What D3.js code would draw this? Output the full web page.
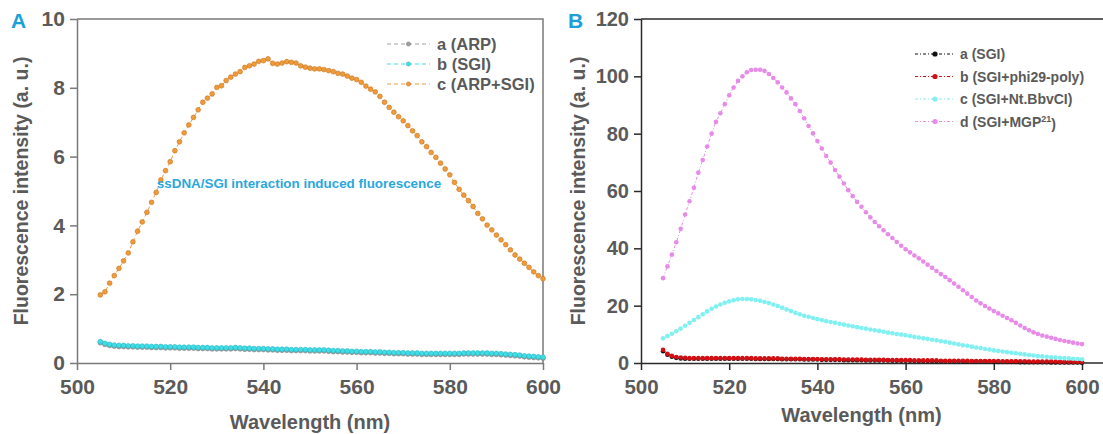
<!DOCTYPE html>
<html>
<head>
<meta charset="utf-8">
<script src="https://cdn.jsdelivr.net/npm/d3@7"></script>
<style>
  body { margin: 0; background: #fff; }
  svg { display: block; font-family: Arial, "Liberation Sans", sans-serif; font-weight: bold; }
</style>
</head>
<body>
<div id="chart"></div>
<script>
// wavelengths, 1 nm steps
var wavelengths = d3.range(505, 601);

// panel A
var arpA = [0.59,0.54,0.51,0.49,0.48,0.48,0.47,0.47,0.46,0.46,0.46,0.45,0.45,0.45,0.44,0.44,0.44,0.43,0.43,0.43,0.43,0.42,0.42,0.42,0.41,0.41,0.41,0.41,0.41,0.42,0.41,0.40,0.40,0.39,0.39,0.39,0.38,0.38,0.37,0.37,0.37,0.36,0.36,0.36,0.36,0.35,0.35,0.35,0.35,0.34,0.33,0.33,0.32,0.32,0.31,0.31,0.30,0.30,0.30,0.29,0.29,0.28,0.28,0.27,0.27,0.27,0.26,0.26,0.26,0.25,0.25,0.25,0.25,0.25,0.25,0.25,0.25,0.25,0.26,0.26,0.26,0.26,0.26,0.26,0.25,0.25,0.24,0.23,0.22,0.21,0.20,0.18,0.17,0.16,0.15,0.14];
var sgiA = [0.62,0.57,0.54,0.52,0.51,0.51,0.50,0.50,0.49,0.49,0.49,0.48,0.48,0.48,0.47,0.47,0.47,0.46,0.46,0.46,0.46,0.45,0.45,0.45,0.44,0.44,0.44,0.44,0.44,0.45,0.44,0.43,0.43,0.42,0.42,0.42,0.41,0.41,0.40,0.40,0.40,0.39,0.39,0.39,0.39,0.38,0.38,0.38,0.38,0.37,0.36,0.36,0.35,0.35,0.34,0.34,0.33,0.33,0.33,0.32,0.32,0.31,0.31,0.30,0.30,0.30,0.29,0.29,0.29,0.28,0.28,0.28,0.28,0.28,0.28,0.28,0.28,0.28,0.29,0.29,0.29,0.29,0.29,0.29,0.28,0.28,0.27,0.26,0.25,0.24,0.23,0.21,0.20,0.19,0.18,0.17];
var arpSgiA = [1.98,2.07,2.32,2.54,2.75,2.97,3.20,3.52,3.83,4.10,4.38,4.67,4.96,5.32,5.59,5.85,6.17,6.43,6.69,6.92,7.14,7.36,7.58,7.70,7.82,8.01,8.06,8.21,8.31,8.40,8.47,8.59,8.64,8.69,8.77,8.79,8.84,8.71,8.69,8.72,8.76,8.74,8.72,8.64,8.60,8.57,8.55,8.55,8.53,8.50,8.47,8.42,8.40,8.34,8.28,8.24,8.16,8.05,7.96,7.88,7.75,7.58,7.43,7.29,7.16,7.04,6.90,6.75,6.61,6.43,6.29,6.12,5.98,5.81,5.64,5.47,5.25,5.05,4.88,4.72,4.55,4.35,4.19,4.01,3.87,3.72,3.58,3.44,3.29,3.14,3.02,2.90,2.78,2.65,2.54,2.45];

// panel B
var sgiB = [4.1,2.9,2.2,1.8,1.6,1.5,1.5,1.5,1.5,1.5,1.5,1.5,1.5,1.5,1.5,1.5,1.5,1.5,1.5,1.5,1.5,1.4,1.4,1.4,1.4,1.4,1.4,1.3,1.3,1.3,1.3,1.3,1.2,1.2,1.2,1.2,1.1,1.1,1.1,1.1,1.1,1.0,1.0,1.0,1.0,1.0,0.9,0.9,0.9,0.9,0.9,0.9,0.8,0.8,0.8,0.8,0.8,0.7,0.7,0.7,0.7,0.7,0.6,0.6,0.6,0.6,0.6,0.6,0.5,0.5,0.5,0.5,0.5,0.5,0.5,0.4,0.4,0.4,0.4,0.4,0.4,0.3,0.3,0.3,0.3,0.3,0.3,0.3,0.2,0.2,0.2,0.2,0.2,0.2,0.2,0.1];
var phiB = [4.6,3.2,2.5,2.1,1.9,1.8,1.7,1.7,1.7,1.7,1.7,1.7,1.7,1.7,1.7,1.7,1.7,1.7,1.7,1.7,1.7,1.6,1.6,1.6,1.6,1.6,1.6,1.5,1.5,1.5,1.5,1.5,1.4,1.4,1.4,1.4,1.3,1.3,1.3,1.3,1.3,1.2,1.2,1.2,1.2,1.2,1.1,1.1,1.1,1.1,1.1,1.0,1.0,1.0,1.0,1.0,1.0,0.9,0.9,0.9,0.9,0.9,0.9,0.8,0.8,0.8,0.8,0.8,0.8,0.8,0.7,0.7,0.7,0.7,0.7,0.7,0.7,0.6,0.6,0.6,0.6,0.6,0.6,0.5,0.5,0.5,0.5,0.5,0.5,0.5,0.4,0.4,0.4,0.4,0.4,0.4];
var nickB = [8.6,9.4,10.2,11.1,12.0,13.0,14.0,15.0,16.0,17.0,18.0,18.9,19.7,20.4,21.0,21.5,21.9,22.2,22.3,22.3,22.2,22.0,21.7,21.3,20.9,20.4,19.9,19.3,18.7,18.1,17.5,17.0,16.5,16.1,15.7,15.3,15.0,14.6,14.3,14.0,13.7,13.4,13.1,12.8,12.5,12.2,12.0,11.7,11.4,11.2,10.9,10.6,10.4,10.1,9.9,9.7,9.4,9.1,8.9,8.6,8.4,8.1,7.9,7.6,7.4,7.1,6.8,6.5,6.2,6.0,5.7,5.4,5.2,4.9,4.7,4.4,4.2,4.0,3.8,3.6,3.4,3.2,3.0,2.8,2.6,2.4,2.3,2.2,2.0,1.9,1.8,1.7,1.6,1.5,1.4,1.3];
var mgpB = [29.6,33.7,37.8,42.1,46.8,51.8,56.4,61.1,66.4,70.8,75.5,80.0,84.1,87.1,90.3,93.4,96.1,98.4,100.0,101.4,102.2,102.3,102.3,101.9,100.8,99.4,97.9,96.1,94.4,92.3,90.3,87.9,85.4,82.7,80.1,77.4,74.8,72.2,69.9,67.3,65.0,62.6,60.3,58.2,56.2,54.5,52.6,50.8,49.2,47.7,46.3,44.9,43.6,42.2,40.9,39.7,38.6,37.5,36.5,35.4,34.3,33.2,32.1,31.0,30.0,28.9,27.7,26.6,25.4,24.2,23.0,21.8,20.8,19.9,19.0,18.1,17.3,16.5,15.7,14.9,14.0,13.1,12.2,11.4,10.7,10.1,9.6,9.2,8.8,8.4,8.0,7.7,7.4,7.1,6.8,6.6];

var xTicks = [500, 520, 540, 560, 580, 600];
var yTicksA = [0, 2, 4, 6, 8, 10];
var yTicksB = [0, 20, 40, 60, 80, 100, 120];

var svg = d3.select('#chart').append('svg')
    .attr('width', 1103)
    .attr('height', 434);

function panel(opt) {
  var x = d3.scaleLinear().domain([500, 600]).range([opt.left, opt.right]);
  var y = d3.scaleLinear().domain(opt.yDomain).range([363, 19]);
  var g = svg.append('g');

  // frame (top / right)
  g.append('path')
    .attr('d', 'M' + opt.left + ',19H' + opt.frameRight + (opt.closed ? 'V363' : ''))
    .attr('fill', 'none')
    .attr('stroke', opt.axisColor)
    .attr('stroke-width', 1.5);

  var xAxis = g.append('g')
    .attr('transform', 'translate(0,363)')
    .call(d3.axisBottom(x).tickValues(xTicks).tickSize(7).tickSizeOuter(0));
  var yAxis = g.append('g')
    .attr('transform', 'translate(' + opt.left + ',0)')
    .call(d3.axisLeft(y).tickValues(opt.yTicks).tickSize(7).tickSizeOuter(0));

  [xAxis, yAxis].forEach(function (a) {
    a.select('.domain').attr('stroke', opt.axisColor).attr('stroke-width', 1.5);
    a.selectAll('.tick line').attr('stroke', opt.axisColor).attr('stroke-width', 1.5);
    a.selectAll('.tick text')
      .attr('fill', '#5a5a5a')
      .style('font-family', 'Arial, "Liberation Sans", sans-serif')
      .style('font-weight', 'bold');
  });
  xAxis.selectAll('.tick text').style('font-size', opt.xTickFont + 'px').attr('dy', '1.0em');
  yAxis.selectAll('.tick text').style('font-size', opt.yTickFont + 'px').attr('dx', '-0.1em');

  if (opt.extendX) {
    g.append('line')
      .attr('x1', opt.right).attr('x2', 1103)
      .attr('y1', 363).attr('y2', 363)
      .attr('stroke', opt.axisColor).attr('stroke-width', 1.5);
  }

  // titles
  g.append('text')
    .attr('transform', 'translate(' + opt.titleX + ',191) rotate(-90)')
    .attr('text-anchor', 'middle')
    .attr('dy', '0.35em')
    .attr('fill', '#5a5a5a')
    .style('font-size', '19.5px')
    .text('Fluorescence intensity (a. u.)');
  g.append('text')
    .attr('x', (opt.left + opt.right) / 2)
    .attr('y', opt.xTitleY)
    .attr('text-anchor', 'middle')
    .attr('dy', '0.35em')
    .attr('fill', '#5a5a5a')
    .style('font-size', '20px')
    .text('Wavelength (nm)');
  g.append('text')
    .attr('x', opt.letterX)
    .attr('y', 28)
    .attr('fill', '#1b9fd9')
    .style('font-size', '21px')
    .text(opt.letter);

  var line = d3.line()
      .x(function (d) { return x(d.w); })
      .y(function (d) { return y(d.v); });

  opt.series.forEach(function (s) {
    var pts = wavelengths.map(function (w, i) { return {w: w, v: s.values[i]}; });
    g.append('path')
      .datum(pts)
      .attr('d', line)
      .attr('fill', 'none')
      .attr('stroke', s.color)
      .attr('stroke-width', 1)
      .attr('stroke-dasharray', opt.dash);
    g.append('g').selectAll('circle')
      .data(pts)
      .enter().append('circle')
      .attr('cx', function (d) { return x(d.w); })
      .attr('cy', function (d) { return y(d.v); })
      .attr('r', opt.r)
      .attr('fill', s.color)
      .attr('stroke', s.edge || 'none')
      .attr('stroke-width', 0.6);
  });

  // legend
  var lg = g.append('g');
  opt.series.forEach(function (s, i) {
    var ly = opt.legend.y + i * opt.legend.step;
    lg.append('line')
      .attr('x1', opt.legend.x).attr('x2', opt.legend.x + opt.legend.len)
      .attr('y1', ly).attr('y2', ly)
      .attr('stroke', s.color)
      .attr('stroke-width', 1)
      .attr('stroke-dasharray', opt.dash);
    lg.append('circle')
      .attr('cx', opt.legend.x + opt.legend.len / 2)
      .attr('cy', ly)
      .attr('r', opt.legend.r)
      .attr('fill', s.color)
      .attr('stroke', s.edge || 'none')
      .attr('stroke-width', 0.6);
    var t = lg.append('text')
      .attr('x', opt.legend.x + opt.legend.len + opt.legend.gap)
      .attr('y', ly)
      .attr('dy', '0.36em')
      .attr('fill', '#5a5a5a')
      .style('font-size', opt.legend.font + 'px');
    if (s.sup) {
      t.append('tspan').text(s.label);
      t.append('tspan').attr('dy', '-0.45em').style('font-size', '9px').text(s.sup);
      t.append('tspan').attr('dy', '0.45em').text(')');
    } else {
      t.text(s.label);
    }
  });
  return g;
}

panel({
  left: 77, right: 543, frameRight: 543, closed: true,
  yDomain: [0, 10], yTicks: yTicksA, axisColor: '#7a7a7a', xTickFont: 21, yTickFont: 21,
  titleX: 21, xTitleY: 422, letter: 'A', letterX: 11,
  dash: '4,3', r: 2.4,
  series: [
    {label: 'a (ARP)', values: arpA, color: '#a0a0a0', edge: '#808080'},
    {label: 'b (SGI)', values: sgiA, color: '#3fdde6', edge: '#2ab8c4'},
    {label: 'c (ARP+SGI)', values: arpSgiA, color: '#ef9b3a', edge: '#c9701a'}
  ],
  legend: {x: 387, y: 44, step: 20, len: 43, gap: 7, font: 16.5, r: 2.1}
}).append('text')
  .attr('x', 299)
  .attr('y', 183)
  .attr('dy', '0.35em')
  .attr('text-anchor', 'middle')
  .attr('fill', '#2aa8dc')
  .style('font-size', '13.4px')
  .text('ssDNA/SGI interaction induced fluorescence');

panel({
  left: 641, right: 1082, frameRight: 1103, closed: false, extendX: true,
  yDomain: [0, 120], yTicks: yTicksB, axisColor: '#2a2a2a', xTickFont: 20.5, yTickFont: 20,
  titleX: 578, xTitleY: 415, letter: 'B', letterX: 568,
  dash: '3,2,1,2', r: 2.3,
  series: [
    {label: 'a (SGI)', values: sgiB, color: '#111111'},
    {label: 'b (SGI+phi29-poly)', values: phiB, color: '#d40f14'},
    {label: 'c (SGI+Nt.BbvCI)', values: nickB, color: '#80f0f0'},
    {label: 'd (SGI+MGP', sup: '21', values: mgpB, color: '#e88ae8'}
  ],
  legend: {x: 915, y: 54, step: 22.5, len: 40, gap: 5, font: 14, r: 2.6}
});
</script>
</body>
</html>
